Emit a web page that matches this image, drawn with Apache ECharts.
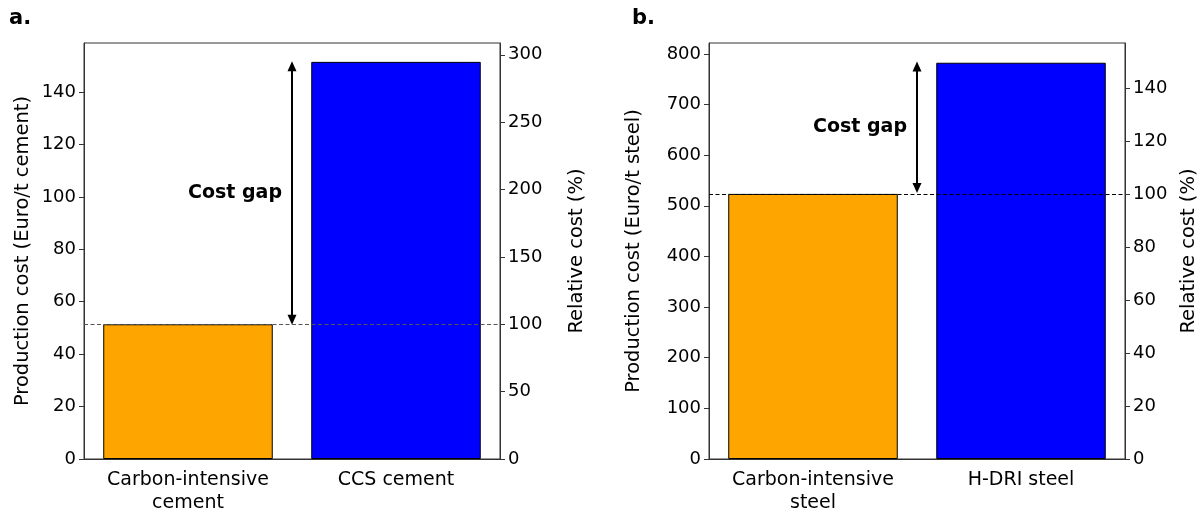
<!DOCTYPE html>
<html>
<head>
<meta charset="utf-8">
<script src="https://cdn.jsdelivr.net/npm/echarts@6/dist/echarts.min.js"></script>
<style>html,body{margin:0;padding:0;background:#fff}#c{width:1199px;height:510px}</style>
</head>
<body>
<div id="c"></div>
<script>
// ---- data ----
const cementCategories = ['Carbon-intensive\ncement', 'CCS cement'];
const cementCost = [51.4, 151.5];
const steelCategories = ['Carbon-intensive\nsteel', 'H-DRI steel'];
const steelCost = [523.5, 782.5];
const cementTicks = [0, 20, 40, 60, 80, 100, 120, 140];
const cementRelTicks = [0, 50, 100, 150, 200, 250, 300];
const steelTicks = [0, 100, 200, 300, 400, 500, 600, 700, 800];
const steelRelTicks = [0, 20, 40, 60, 80, 100, 120, 140];
const cementGap = [149.8, 53.1];
const steelGap = [775, 535];
const barColors = ['#FFA500', '#0000FF'];

const cementAxisMax = 158.7;
const steelAxisMax = 821.5;
const cementRelMax = cementAxisMax / cementCost[0] * 100;
const steelRelMax = steelAxisMax / steelCost[0] * 100;

const FONT = 'DejaVu Sans';
const TICK_FS = 18;
const CAT_FS = 19;
const NAME_FS = 19.5;

function valueAxis(grid, pos, max, ticks, name, nameGap) {
  return {
    type: 'value', gridIndex: grid, position: pos, min: 0, max: max,
    name: name, nameLocation: 'middle', nameGap: nameGap,
    nameTextStyle: { fontFamily: FONT, fontSize: NAME_FS, color: '#000' },
    axisLine: { show: true, onZero: false, lineStyle: { color: '#333', width: 1 } },
    axisTick: { show: true, length: 5, lineStyle: { color: '#333' }, customValues: ticks },
    axisLabel: { fontFamily: FONT, fontSize: TICK_FS, color: '#000', margin: 8, customValues: ticks },
    splitLine: { show: false }
  };
}
function catAxis(grid, cats) {
  return {
    type: 'category', gridIndex: grid, data: cats,
    axisLine: { onZero: false, lineStyle: { color: '#333' } },
    axisTick: { alignWithLabel: true, length: 5, lineStyle: { color: '#333' } },
    axisLabel: { fontFamily: FONT, fontSize: CAT_FS, color: '#000', lineHeight: 23, margin: 10, interval: 0 }
  };
}
function hiddenX(grid) {
  return { type: 'value', gridIndex: grid, min: -0.5, max: 1.5, show: false };
}
function bars(xi, yi, vals, lineColor) {
  return {
    type: 'bar', xAxisIndex: xi, yAxisIndex: yi, barWidth: '81.5%',
    data: vals.map((v, i) => ({ value: v, itemStyle: { color: barColors[i] } })),
    itemStyle: { borderColor: '#000', borderWidth: 1 },
    markLine: {
      silent: true, symbol: ['none', 'none'],
      label: { show: false },
      lineStyle: { color: lineColor, type: [4, 2.5], width: 1 },
      data: [{ yAxis: vals[0] }]
    },
    z: 2
  };
}
function arrow(xi, yi, gap) {
  return {
    type: 'line', xAxisIndex: xi, yAxisIndex: yi, data: [],
    markLine: {
      silent: true, symbol: ['triangle', 'triangle'], symbolSize: [9, 10],
      label: { show: false },
      lineStyle: { color: '#000', width: 2, type: 'solid' },
      data: [[{ coord: [0.5, gap[0]] }, { coord: [0.5, gap[1]] }]]
    },
    z: 5
  };
}

const chart = echarts.init(document.getElementById('c'), null, { renderer: 'canvas' });
chart.setOption({
  animation: false,
  backgroundColor: '#fff',
  grid: [
    { left: 84, width: 416, top: 43, bottom: 51, show: true, borderColor: '#333', borderWidth: 1, containLabel: false, outerBoundsMode: 'none' },
    { left: 709, width: 416, top: 43, bottom: 51, show: true, borderColor: '#333', borderWidth: 1, containLabel: false, outerBoundsMode: 'none' }
  ],
  xAxis: [catAxis(0, cementCategories), catAxis(1, steelCategories), hiddenX(0), hiddenX(1)],
  yAxis: [
    valueAxis(0, 'left', cementAxisMax, cementTicks, 'Production cost (Euro/t cement)', 51),
    valueAxis(0, 'right', cementRelMax, cementRelTicks, 'Relative cost (%)', 67),
    valueAxis(1, 'left', steelAxisMax, steelTicks, 'Production cost (Euro/t steel)', 65),
    valueAxis(1, 'right', steelRelMax, steelRelTicks, 'Relative cost (%)', 54)
  ],
  series: [
    bars(0, 0, cementCost, '#555'),
    bars(1, 2, steelCost, '#000'),
    arrow(2, 0, cementGap),
    arrow(3, 2, steelGap)
  ],
  graphic: [
    { type: 'text', left: 9, top: 8, style: { text: 'a.', font: 'bold 21px "DejaVu Sans"', fill: '#000' } },
    { type: 'text', left: 632, top: 8, style: { text: 'b.', font: 'bold 21px "DejaVu Sans"', fill: '#000' } },
    { type: 'text', x: 235, y: 193, style: { text: 'Cost gap', font: 'bold 19px "DejaVu Sans"', fill: '#000', align: 'center', verticalAlign: 'middle' } },
    { type: 'text', x: 860, y: 127, style: { text: 'Cost gap', font: 'bold 19px "DejaVu Sans"', fill: '#000', align: 'center', verticalAlign: 'middle' } }
  ]
});
</script>
</body>
</html>
